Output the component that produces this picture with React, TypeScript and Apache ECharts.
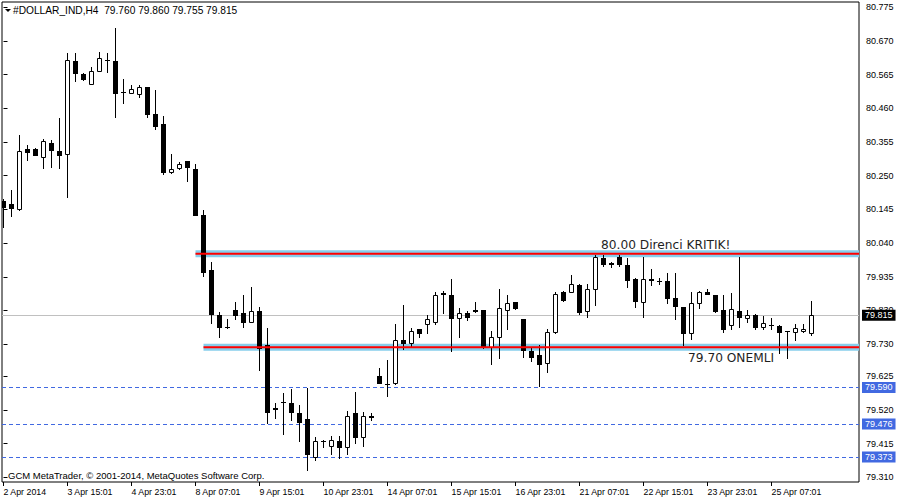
import React, { useEffect, useRef } from "react";
import * as echarts from "echarts";

// ---------- data ----------
const symbolName = "#DOLLAR_IND,H4";
const copyrightText = "GCM MetaTrader, © 2001-2014, MetaQuotes Software Corp.";

const xTickIndex = [0, 8, 16, 24, 32, 40, 48, 56, 64, 72, 80, 88, 96];
const xTickLabels = [
  "2 Apr 2014", "3 Apr 15:01", "4 Apr 23:01", "8 Apr 07:01", "9 Apr 15:01",
  "10 Apr 23:01", "14 Apr 07:01", "15 Apr 15:01", "16 Apr 23:01", "21 Apr 07:01",
  "22 Apr 15:01", "23 Apr 23:01", "25 Apr 07:01",
];

const yTickValues = [79.31, 79.415, 79.52, 79.625, 79.725, 79.83, 79.935, 80.04, 80.145, 80.25, 80.355, 80.46, 80.565, 80.67, 80.775];
const yTickLabels = ["79.310", "79.415", "79.520", "79.625", "79.730", "79.830", "79.935", "80.040", "80.145", "80.250", "80.355", "80.460", "80.565", "80.670", "80.775"];

const opens = [
  80.171, 80.162, 80.145, 80.333, 80.333, 80.307, 80.351, 80.326, 80.317, 80.608,
  80.567, 80.535, 80.576, 80.612, 80.608, 80.512, 80.507, 80.505, 80.526, 80.441,
  80.411, 80.261, 80.275, 80.295, 80.270, 80.127, 79.956, 79.816, 79.779, 79.831,
  79.823, 79.795, 79.828, 79.722, 79.525, 79.546, 79.541, 79.510, 79.491, 79.374,
  79.423, 79.408, 79.423, 79.405, 79.511, 79.435, 79.500, 79.626, 79.601, 79.603,
  79.738, 79.730, 79.771, 79.787, 79.795, 79.885, 79.878, 79.806, 79.821, 79.830,
  79.831, 79.716, 79.746, 79.831, 79.855, 79.802, 79.704, 79.691, 79.665, 79.762,
  79.888, 79.888, 79.909, 79.829, 79.896, 79.993, 79.977, 79.996, 79.972, 79.928,
  79.855, 79.927, 79.922, 79.922, 79.868, 79.840, 79.759, 79.852, 79.888, 79.877,
  79.830, 79.784, 79.828, 79.806, 79.816, 79.779, 79.786, 79.782, 79.766, 79.762,
  79.766, 79.760,
];
const highs = [
  80.177, 80.206, 80.377, 80.346, 80.336, 80.364, 80.361, 80.429, 80.634, 80.634,
  80.569, 80.590, 80.637, 80.634, 80.710, 80.551, 80.533, 80.533, 80.527, 80.517,
  80.436, 80.318, 80.292, 80.297, 80.287, 80.143, 79.981, 79.826, 79.802, 79.856,
  79.878, 79.904, 79.842, 79.774, 79.541, 79.573, 79.585, 79.535, 79.587, 79.435,
  79.426, 79.439, 79.440, 79.517, 79.577, 79.514, 79.511, 79.650, 79.676, 79.788,
  79.847, 79.774, 79.773, 79.816, 79.888, 79.891, 79.928, 79.837, 79.828, 79.855,
  79.832, 79.767, 79.897, 79.878, 79.857, 79.803, 79.716, 79.722, 79.771, 79.888,
  79.891, 79.941, 79.911, 79.913, 80.003, 80.003, 79.982, 80.003, 79.993, 79.930,
  79.996, 79.958, 79.930, 79.948, 79.948, 79.841, 79.888, 79.892, 79.896, 79.878,
  79.878, 79.883, 79.998, 79.831, 79.819, 79.813, 79.806, 79.786, 79.767, 79.787,
  79.787, 79.860,
];
const lows = [
  80.091, 80.125, 80.143, 80.299, 80.314, 80.275, 80.278, 80.275, 80.185, 80.546,
  80.548, 80.535, 80.576, 80.574, 80.432, 80.476, 80.507, 80.494, 80.432, 80.395,
  80.254, 80.260, 80.270, 80.234, 80.126, 79.938, 79.790, 79.748, 79.774, 79.804,
  79.779, 79.794, 79.644, 79.480, 79.496, 79.445, 79.489, 79.424, 79.333, 79.364,
  79.405, 79.383, 79.369, 79.383, 79.416, 79.408, 79.489, 79.604, 79.564, 79.600,
  79.710, 79.720, 79.748, 79.761, 79.787, 79.821, 79.705, 79.748, 79.800, 79.825,
  79.712, 79.662, 79.681, 79.771, 79.836, 79.686, 79.672, 79.595, 79.639, 79.761,
  79.861, 79.887, 79.819, 79.811, 79.847, 79.969, 79.965, 79.969, 79.904, 79.840,
  79.811, 79.909, 79.913, 79.854, 79.802, 79.722, 79.740, 79.837, 79.880, 79.826,
  79.762, 79.773, 79.779, 79.795, 79.773, 79.772, 79.771, 79.698, 79.681, 79.738,
  79.764, 79.755,
];
const closes = [
  80.153, 80.150, 80.327, 80.325, 80.316, 80.358, 80.331, 80.316, 80.611, 80.571,
  80.551, 80.576, 80.616, 80.611, 80.507, 80.511, 80.519, 80.526, 80.441, 80.405,
  80.263, 80.270, 80.287, 80.276, 80.128, 79.951, 79.818, 79.779, 79.778, 79.817,
  79.795, 79.828, 79.712, 79.514, 79.524, 79.545, 79.514, 79.483, 79.383, 79.423,
  79.422, 79.426, 79.405, 79.501, 79.435, 79.501, 79.499, 79.605, 79.600, 79.738,
  79.730, 79.766, 79.761, 79.802, 79.878, 79.880, 79.806, 79.821, 79.809, 79.828,
  79.716, 79.748, 79.837, 79.854, 79.839, 79.707, 79.686, 79.662, 79.764, 79.880,
  79.863, 79.912, 79.825, 79.896, 79.996, 79.975, 79.976, 79.975, 79.925, 79.860,
  79.927, 79.926, 79.921, 79.870, 79.845, 79.761, 79.852, 79.888, 79.881, 79.829,
  79.772, 79.834, 79.811, 79.816, 79.778, 79.790, 79.785, 79.764, 79.765, 79.774,
  79.772, 79.815,
];

const bidPrice = 79.815;
const dashedLevels = [79.59, 79.476, 79.373];
const bandLevels = [80.007, 79.715];
const bandStartBars = [24, 25];
const bandTexts = ["80.00 Direnci KRITIK!", "79.70 ONEMLI"];

// ---------- layout / style constants ----------
const X_MIN = -0.1875;
const X_MAX = 106.9375;
const Y_MIN = 79.29524;
const Y_MAX = 80.7915;
const SMALL_FONT = "'Liberation Sans', Arial, sans-serif";
const NOTE_FONT = "'DejaVu Sans', sans-serif";

export default function App() {
  const ref = useRef<HTMLDivElement>(null);

  useEffect(() => {
    if (!ref.current) return;
    const chart = echarts.init(ref.current, null, { renderer: "svg" });

    const candleData = opens.map((o, i) => [i, o, highs[i], lows[i], closes[i]]);
    const last = candleData.length - 1;
    const titleText = `${symbolName}  ${opens[last].toFixed(3)} ${highs[last].toFixed(3)} ${lows[last].toFixed(3)} ${closes[last].toFixed(3)}`;

    const bandUnder: any[] = [];
    const bandOver: any[] = [];
    bandLevels.forEach((lv, k) => {
      const data = [[bandStartBars[k], lv], [X_MAX, lv]];
      bandUnder.push({
        type: "line",
        data,
        symbol: "none",
        silent: true,
        z: 1,
        lineStyle: { color: "#87CEEB", width: 7 },
      });
      bandOver.push({
        type: "line",
        data,
        symbol: "none",
        silent: true,
        z: 4,
        lineStyle: { color: "#FF0000", width: 2 },
      });
    });

    const levelLabel = (v: number) => v.toFixed(3);

    const markLineData: any[] = [
      {
        yAxis: bidPrice,
        lineStyle: { color: "#C0C0C0", width: 1, type: "solid" },
        label: { backgroundColor: "#000000", color: "#FFFFFF", formatter: levelLabel(bidPrice) },
      },
      ...dashedLevels.map((v) => ({
        yAxis: v,
        lineStyle: { color: "#4169E1", width: 1, type: [4, 3] },
        label: { backgroundColor: "#4169E1", color: "#FFFFFF", formatter: levelLabel(v) },
      })),
    ];

    const option: any = {
      animation: false,
      backgroundColor: "#FFFFFF",
      grid: {
        left: 2,
        right: 41,
        top: 2,
        bottom: 18,
        show: true,
        backgroundColor: "#FFFFFF",
        borderColor: "#000000",
        borderWidth: 1,
      },
      xAxis: {
        type: "value",
        min: X_MIN,
        max: X_MAX,
        axisLine: { show: false },
        splitLine: { show: false },
        axisTick: {
          show: true,
          length: 4,
          customValues: xTickIndex,
          lineStyle: { color: "#000000" },
        },
        axisLabel: {
          customValues: xTickIndex,
          formatter: (v: number) => {
            const idx = xTickIndex.findIndex((t) => Math.abs(t - v) < 1e-6);
            return idx >= 0 ? xTickLabels[idx] : "";
          },
          align: "left",
          verticalAlign: "top",
          margin: 5,
          color: "#000000",
          fontFamily: SMALL_FONT,
          fontSize: 8.8,
          lineHeight: 10,
        },
      },
      yAxis: {
        type: "value",
        position: "right",
        min: Y_MIN,
        max: Y_MAX,
        axisLine: { show: false },
        splitLine: { show: false },
        axisTick: {
          show: true,
          length: 4,
          customValues: yTickValues,
          lineStyle: { color: "#000000" },
        },
        axisLabel: {
          customValues: yTickValues,
          formatter: (v: number) => {
            const idx = yTickValues.findIndex((t) => Math.abs(t - v) < 1e-6);
            return idx >= 0 ? yTickLabels[idx] : "";
          },
          align: "left",
          margin: 7,
          color: "#000000",
          fontFamily: SMALL_FONT,
          fontSize: 9,
        },
      },
      series: [
        {
          type: "line",
          data: [],
          silent: true,
          z: 1,
          markLine: {
            silent: true,
            z: 1,
            precision: 3,
            symbol: ["none", "none"],
            animation: false,
            label: {
              show: true,
              position: "end",
              distance: 3,
              fontFamily: SMALL_FONT,
              fontSize: 9,
              lineHeight: 9,
              padding: [1, 3, 1, 3],
            },
            data: markLineData,
          },
        },
        ...bandUnder,
        {
          type: "custom",
          z: 2,
          clip: true,
          silent: true,
          data: candleData,
          encode: { x: 0, y: [1, 2, 3, 4] },
          renderItem: (params: any, api: any) => {
            const i = api.value(0);
            const o = api.value(1);
            const h = api.value(2);
            const l = api.value(3);
            const c = api.value(4);
            const pO = api.coord([i, o]);
            const pC = api.coord([i, c]);
            const pH = api.coord([i, h]);
            const pL = api.coord([i, l]);
            const xc = Math.floor(pO[0]);
            const yH = Math.round(pH[1]);
            const yL = Math.round(pL[1]);
            const yT = Math.round(Math.min(pO[1], pC[1]));
            const yB = Math.round(Math.max(pO[1], pC[1]));
            const children: any[] = [
              {
                type: "rect",
                shape: { x: xc, y: yH, width: 1, height: Math.max(1, yL - yH + 1) },
                style: { fill: "#000000" },
              },
            ];
            if (yB - yT < 1) {
              children.push({
                type: "rect",
                shape: { x: xc - 2, y: yT, width: 5, height: 1 },
                style: { fill: "#000000" },
              });
            } else if (c < o) {
              children.push({
                type: "rect",
                shape: { x: xc - 2, y: yT, width: 5, height: yB - yT + 1 },
                style: { fill: "#000000" },
              });
            } else {
              children.push({
                type: "rect",
                shape: { x: xc - 1.5, y: yT + 0.5, width: 4, height: yB - yT },
                style: { fill: "#FFFFFF", stroke: "#000000", lineWidth: 1 },
              });
            }
            return { type: "group", children };
          },
        },
        ...bandOver,
      ],
      graphic: [
        {
          type: "polygon",
          shape: { points: [[5, 9], [11, 9], [8, 12]] },
          style: { fill: "#000000" },
          silent: true,
        },
        {
          type: "text",
          x: 13,
          y: 10.5,
          silent: true,
          style: {
            text: titleText,
            fill: "#000000",
            font: `10.2px ${SMALL_FONT}`,
            verticalAlign: "middle",
            align: "left",
          },
        },
        {
          type: "text",
          x: 8,
          y: 475,
          silent: true,
          style: {
            text: copyrightText,
            fill: "#000000",
            font: `9.5px ${SMALL_FONT}`,
            verticalAlign: "middle",
            align: "left",
          },
        },
        {
          type: "text",
          x: 601,
          y: 245,
          silent: true,
          z: 10,
          style: {
            text: bandTexts[0],
            fill: "#1E1E1E",
            font: `12.2px ${NOTE_FONT}`,
            verticalAlign: "middle",
            align: "left",
          },
        },
        {
          type: "text",
          x: 688,
          y: 357.5,
          silent: true,
          z: 10,
          style: {
            text: bandTexts[1],
            fill: "#1E1E1E",
            font: `12.2px ${NOTE_FONT}`,
            verticalAlign: "middle",
            align: "left",
          },
        },
      ],
    };

    chart.setOption(option);
    return () => {
      chart.dispose();
    };
  }, []);

  return (
    <div
      ref={ref}
      style={{ position: "absolute", left: 0, top: 0, width: 900, height: 500 }}
    />
  );
}
